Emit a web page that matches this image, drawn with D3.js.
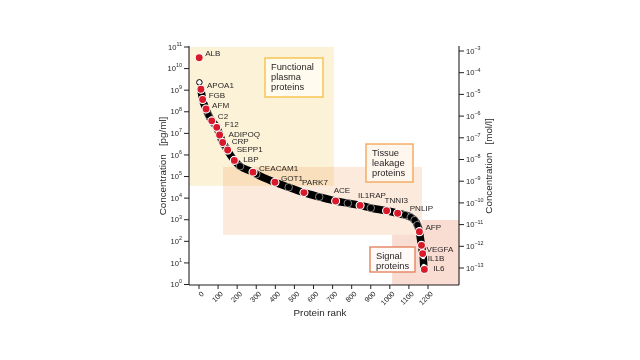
<!DOCTYPE html>
<html><head><meta charset="utf-8">
<script src="https://cdn.jsdelivr.net/npm/d3@7/dist/d3.min.js"></script>
<style>html,body{margin:0;padding:0;background:#fff}svg{display:block;font-family:"Liberation Sans",Arial,sans-serif}</style>
</head><body><svg id="c" width="640" height="360"></svg>
<script>
// ---- data ----
const curveRank = [2, 10, 19, 37, 50, 67, 93, 106, 124, 141, 150, 185, 215, 283, 300, 398, 470, 550, 630, 716, 780, 844, 900, 983, 1041, 1080, 1110, 1130, 1145, 1155, 1160, 1166, 1172, 1175, 1178, 1181];
const curveConc = [2.3e9, 1.1e9, 3.7e8, 1.35e8, 7e7, 3.8e7, 1.9e7, 9.8e6, 3.8e6, 2.2e6, 1.6e6, 5.6e5, 3.0e5, 1.6e5, 1.3e5, 5.4e4, 3.2e4, 1.8e4, 1.15e4, 7.4e3, 5.8e3, 4.6e3, 3.5e3, 2.6e3, 2.0e3, 1.65e3, 1.3e3, 9.5e2, 5.6e2, 2.8e2, 1.4e2, 65, 27, 19, 7, 5];
const proteinNames = ["ALB","APOA1","FGB","AFM","C2","F12","ADIPOQ","CRP","SEPP1","LBP","CEACAM1","GOT1","PARK7","ACE","IL1RAP","TNNI3","PNLIP","AFP","VEGFA","IL1B","IL6"];
const proteinRank = [1, 10, 19, 37, 67, 93, 108, 124, 150, 185, 283, 398, 550, 716, 844, 983, 1041, 1155, 1166, 1172, 1181];
const proteinConc = [3.2e10, 1.1e9, 3.7e8, 1.35e8, 3.8e7, 1.9e7, 8.4e6, 3.8e6, 1.7e6, 5.6e5, 1.6e5, 5.4e4, 1.8e4, 7.4e3, 4.6e3, 2.6e3, 2.0e3, 280, 65, 27, 5];
const labelSide = ["r","r","r","r","r","f","m","m","m","m","r","r","a","a","a","a","p","r","rb","rb","m"];
const hollowRank = [2, 1175, 1178];
const hollowConc = [2.3e9, 19, 7];
const xTicks = [0,100,200,300,400,500,600,700,800,900,1000,1100,1200];
const leftExp = [0,1,2,3,4,5,6,7,8,9,10,11];
const rightExp = [-3,-4,-5,-6,-7,-8,-9,-10,-11,-12,-13];
const groups = [
  {lines:["Functional","plasma","proteins"], r0:-60, r1:707, c0:1e11, c1:3.7e4},
  {lines:["Tissue","leakage","proteins"], r0:126, r1:1169, c0:2.8e5, c1:200},
  {lines:["Signal","proteins"], r0:1012, r1:1400, c0:970, c1:0.5}
];

// ---- layout ----
const svg = d3.select("#c");
const X0 = 189, X1 = 459, YB = 285;
const x = d3.scaleLinear().domain([0,1200]).range([199,428]);
const y = d3.scaleLog().domain([1,1e11]).range([284.5,47]);
const yR = d3.scaleLog().domain([1e-13,1e-3]).range([268,51]);
const ink = "#231f20";

// shaded regions
const fills = ["#fbefcf","#fcebdd","#f9ddd3"];
[2,1,0].forEach(i=>{
  const g = groups[i];
  const xa = Math.max(X0, x(g.r0)), xb = Math.min(X1, x(g.r1));
  const ya = Math.max(47, y(g.c0)), yb = Math.min(YB, y(g.c1));
  svg.append("rect").attr("x",xa).attr("y",ya).attr("width",xb-xa).attr("height",yb-ya)
    .attr("fill",fills[i]).attr("opacity", i===0?0.8:1)
    .style("mix-blend-mode", i===0?"multiply":"normal");
});

// group label boxes
const boxes = [
  {bx:265,by:58,bw:58,bh:39,stroke:"#f5c24a",fill:"#fffbee"},
  {bx:366,by:144,bw:47,bh:38,stroke:"#f2a85c",fill:"#fff6ee"},
  {bx:370,by:247,bw:45,bh:25,stroke:"#e5835f",fill:"#fffaf8"}
];
boxes.forEach((b,i)=>{
  svg.append("rect").attr("x",b.bx).attr("y",b.by).attr("width",b.bw).attr("height",b.bh)
    .attr("fill",b.fill).attr("stroke",b.stroke).attr("stroke-width",1.4);
  const t = svg.append("text").attr("font-size",9.3).attr("fill",ink);
  groups[i].lines.forEach((ln,k)=>{
    t.append("tspan").attr("x",b.bx+6).attr("y",b.by+11.5+k*10.4).text(ln);
  });
});

// curve
const pts = curveRank.map((r,i)=>[r,curveConc[i]]);
const line = d3.line().x(d=>x(d[0])).y(d=>y(d[1])).curve(d3.curveMonotoneX);
svg.append("path").attr("d",line(pts.slice(1))).attr("fill","none").attr("stroke","#000")
  .attr("stroke-width",7.5).attr("stroke-linecap","round").attr("stroke-linejoin","round");
svg.selectAll("circle.cv").data(pts.slice(1,30)).join("circle").attr("class","cv")
  .attr("cx",d=>x(d[0])).attr("cy",d=>y(d[1])).attr("r",3.8)
  .attr("fill","#000").attr("stroke","#fff").attr("stroke-width",0.5);
svg.selectAll("circle.ho").data(hollowRank.map((r,i)=>[r,hollowConc[i]])).join("circle").attr("class","ho")
  .attr("cx",d=>x(d[0])).attr("cy",d=>y(d[1])).attr("r",2.8)
  .attr("fill","#fff").attr("stroke","#000").attr("stroke-width",1);

// red protein markers
const off = {r:[6,-3.5], f:[8,-2], m:[9,-0.5], a:[-2,-10], rb:[5,5], p:[12,-4]};
const prot = proteinNames.map((n,i)=>({n, r:proteinRank[i], c:proteinConc[i], s:labelSide[i]}));
svg.selectAll("circle.pr").data(prot).join("circle").attr("class","pr")
  .attr("cx",d=>x(d.r)).attr("cy",d=>y(d.c)).attr("r",4)
  .attr("fill","#d7192a").attr("stroke","#fff").attr("stroke-width",1.1);
svg.selectAll("text.pl").data(prot).join("text").attr("class","pl")
  .attr("x",d=>x(d.r)+off[d.s][0]).attr("y",d=>y(d.c)+off[d.s][1])
  .attr("dominant-baseline","middle").attr("font-size",8.1).attr("fill",ink).text(d=>d.n);

// axes
const axG = svg.append("g").attr("stroke",ink).attr("stroke-width",1.1).attr("fill","none");
axG.append("line").attr("x1",X0).attr("x2",X0).attr("y1",46).attr("y2",YB);
axG.append("line").attr("x1",X1).attr("x2",X1).attr("y1",46).attr("y2",YB);
axG.append("line").attr("x1",X0).attr("x2",X1).attr("y1",YB).attr("y2",YB);

// left ticks
leftExp.forEach(e=>{
  const yy = y(Math.pow(10,e));
  svg.append("line").attr("x1",X0-5).attr("x2",X0).attr("y1",yy).attr("y2",yy).attr("stroke",ink).attr("stroke-width",1);
  const t = svg.append("text").attr("x",X0-7).attr("y",yy+2.7).attr("text-anchor","end").attr("font-size",7.6).attr("fill",ink);
  t.append("tspan").text("10");
  t.append("tspan").attr("dy",-3.8).attr("font-size",5.4).text(e);
});
// right ticks
rightExp.forEach(e=>{
  const yy = yR(Math.pow(10,e));
  svg.append("line").attr("x1",X1).attr("x2",X1+5).attr("y1",yy).attr("y2",yy).attr("stroke",ink).attr("stroke-width",1);
  const t = svg.append("text").attr("x",X1+7).attr("y",yy+2.7).attr("font-size",7.6).attr("fill",ink);
  t.append("tspan").text("10");
  t.append("tspan").attr("dy",-3.8).attr("font-size",5.4).text("\u2212"+Math.abs(e));
});
// bottom ticks
xTicks.forEach(v=>{
  const xx = x(v);
  svg.append("line").attr("x1",xx).attr("x2",xx).attr("y1",YB).attr("y2",YB+4).attr("stroke",ink).attr("stroke-width",1);
  svg.append("text").attr("transform",`translate(${xx+4},${YB+8}) rotate(-45)`)
    .attr("text-anchor","end").attr("dominant-baseline","middle").attr("font-size",7.2).attr("fill",ink).text(v);
});

// axis titles
svg.append("text").attr("transform","translate(166,166) rotate(-90)").attr("text-anchor","middle")
  .attr("font-size",9.8).attr("fill",ink).attr("xml:space","preserve").text("Concentration   [pg/ml]");
svg.append("text").attr("transform","translate(492,166) rotate(-90)").attr("text-anchor","middle")
  .attr("font-size",9.8).attr("fill",ink).attr("xml:space","preserve").text("Concentration   [mol/l]");
svg.append("text").attr("x",320).attr("y",316).attr("text-anchor","middle")
  .attr("font-size",9.8).attr("fill",ink).text("Protein rank");
</script></body></html>
